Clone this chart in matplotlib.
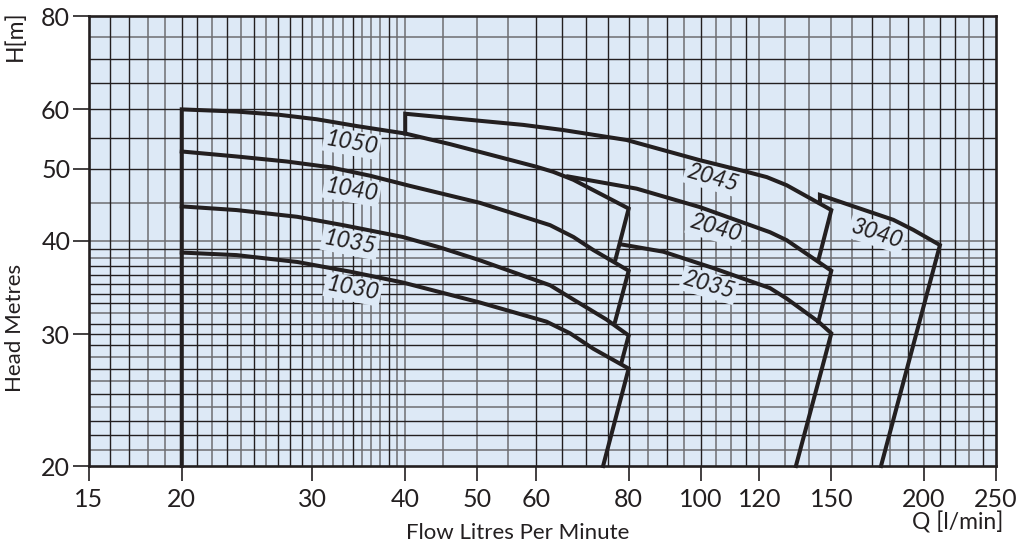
import matplotlib
matplotlib.use("Agg")
import matplotlib.pyplot as plt

plt.rcParams['font.family'] = ['Lato', 'DejaVu Sans']

# --- pump curves, Q [l/min] vs H [m] ---
q_1050 = [20, 20, 23.7, 27.1, 30.4, 34.4, 40, 46, 60, 63.3, 67.4, 74.7, 80, 76.8]
h_1050 = [20, 60, 59.6, 59.0, 58.2, 57.0, 55.7, 53.9, 50.3, 49.5, 48.3, 45.8, 44.2, 37.8]

q_1040 = [20, 23.7, 27.7, 31.7, 35.9, 40.6, 50.4, 62.7, 67.4, 71.7, 80, 76.7]
h_1040 = [52.7, 51.9, 51.1, 50.2, 48.9, 47.4, 45.0, 42.0, 40.5, 38.9, 36.5, 31.2]

q_1035 = [20, 23.7, 28.6, 33.0, 39.7, 44.6, 50.4, 62.7, 67.4, 74.7, 80, 78.3]
h_1035 = [44.5, 44.0, 43.1, 42.0, 40.5, 39.2, 37.7, 34.9, 33.4, 31.4, 29.9, 27.6]

q_1030 = [20, 23.7, 28.6, 33.7, 39.7, 50.4, 62.0, 66.7, 71.7, 80, 73.9]
h_1030 = [38.6, 38.3, 37.5, 36.4, 35.2, 33.1, 31.2, 30.1, 28.7, 27.0, 20]

q_2045 = [40, 40, 57.7, 65.3, 79.5, 99.8, 115.4, 122.8, 130.6, 150, 144.1]
h_2045 = [55.7, 59.2, 57.2, 56.3, 54.6, 51.3, 49.5, 48.7, 47.5, 44.0, 37.7]

q_2040 = [66.3, 82.0, 99.8, 124.0, 130.6, 150, 144.1]
h_2040 = [48.8, 47.0, 44.4, 41.1, 40.1, 36.5, 31.2]

q_2035 = [78.0, 89.1, 104.0, 124.0, 130.6, 144.1, 150, 134.4]
h_2035 = [39.6, 38.7, 36.8, 34.6, 33.5, 31.2, 30.1, 20]

q_3040 = [144.8, 144.8, 164.0, 181.8, 193.4, 210.1, 175.0]
h_3040 = [45.0, 46.1, 44.2, 42.7, 41.4, 39.5, 20]

curve_names = ['1050', '1040', '1035', '1030', '2045', '2040', '2035', '3040']
label_q = [33.9, 33.9, 33.7, 34.0, 103.8, 104.6, 102.6, 172.7]
label_h = [54.1, 46.8, 39.8, 34.5, 48.6, 41.6, 34.9, 40.9]
label_rot = [-10, -10, -11, -11, -16, -16, -16, -18]

x_ticks = [15, 20, 30, 40, 50, 60, 80, 100, 120, 150, 200, 250]
y_ticks = [20, 30, 40, 50, 60, 80]

# log paper grid
xgrid_black = [16, 17, 20, 21, 23, 25, 27, 28, 29, 34, 38, 60, 65, 70, 75, 80,
               90, 100, 115, 170, 190, 210, 220, 240]
xgrid_grey = [18, 19, 22, 24, 26, 30, 31, 32, 33, 35, 36, 37, 39, 40, 45, 50, 55,
              85, 95, 105, 110, 120, 130, 140, 150, 160, 180, 200, 230]
ygrid_black = [70, 65, 60, 55, 50, 39, 37, 36, 35, 34, 33, 31, 30, 29, 27, 25, 23, 22]
ygrid_grey = [75, 45, 40, 38, 32, 28, 26, 24, 21]

bg = '#dde9f6'
ink = '#231f20'
grey = '#6d6e71'

fig = plt.figure(figsize=(10.19, 5.45), dpi=100)
ax = fig.add_axes([89 / 1019, 1 - 466 / 545, (996 - 89) / 1019, (466 - 16) / 545])
ax.set_facecolor(bg)
ax.set_xscale('log')
ax.set_yscale('log')
ax.set_xlim(15, 250)
ax.set_ylim(20, 80)

for v in xgrid_grey:
    ax.axvline(v, color=grey, lw=1.1, zorder=1)
for v in ygrid_grey:
    ax.axhline(v, color=grey, lw=1.1, zorder=1)
for v in xgrid_black:
    ax.axvline(v, color=ink, lw=1.0, zorder=1.1)
for v in ygrid_black:
    ax.axhline(v, color=ink, lw=1.0, zorder=1.1)

curves = [(q_1050, h_1050), (q_1040, h_1040), (q_1035, h_1035), (q_1030, h_1030),
          (q_2045, h_2045), (q_2040, h_2040), (q_2035, h_2035), (q_3040, h_3040)]
for q, h in curves:
    ax.plot(q, h, color=ink, lw=2.9, solid_joinstyle='miter', zorder=4, clip_on=False)

for name, q, h, r in zip(curve_names, label_q, label_h, label_rot):
    ax.text(q, h, name, rotation=r, ha='center', va='center', fontsize=16.5,
            style='italic', color=ink, zorder=3,
            bbox=dict(facecolor=bg, edgecolor='none', pad=1.5))

ax.xaxis.set_major_locator(plt.FixedLocator(x_ticks))
ax.xaxis.set_major_formatter(plt.FixedFormatter([str(t) for t in x_ticks]))
ax.xaxis.set_minor_locator(plt.NullLocator())
ax.yaxis.set_major_locator(plt.FixedLocator(y_ticks))
ax.yaxis.set_major_formatter(plt.FixedFormatter([str(t) for t in y_ticks]))
ax.yaxis.set_minor_locator(plt.NullLocator())
ax.tick_params(axis='x', length=11, width=1.2, pad=5, labelsize=18, colors=ink)
ax.tick_params(axis='y', length=11.5, width=1.2, pad=2, labelsize=18, colors=ink)
for t, v in zip(ax.xaxis.get_major_ticks(), x_ticks):
    if v in (30, 40, 50, 120, 200):
        t.tick1line.set_color(grey)

for s in ax.spines.values():
    s.set_color(ink)
    s.set_linewidth(1.9)
    s.set_zorder(5)

fig.text(0.0147, 1 - 328 / 545, 'Head Metres', rotation=90, ha='center', va='center',
         fontsize=16, color=ink)
fig.text(0.0147, 1 - 36 / 545, 'H[m]', rotation=90, ha='center', va='center',
         fontsize=16.5, color=ink)
fig.text(518 / 1019, 1 - 533 / 545, 'Flow Litres Per Minute', ha='center', va='center',
         fontsize=16, color=ink)
fig.text(958 / 1019, 1 - 522 / 545, 'Q [l/min]', ha='center', va='center',
         fontsize=16.5, color=ink)

fig.savefig('out.png', dpi=100, facecolor='white')
